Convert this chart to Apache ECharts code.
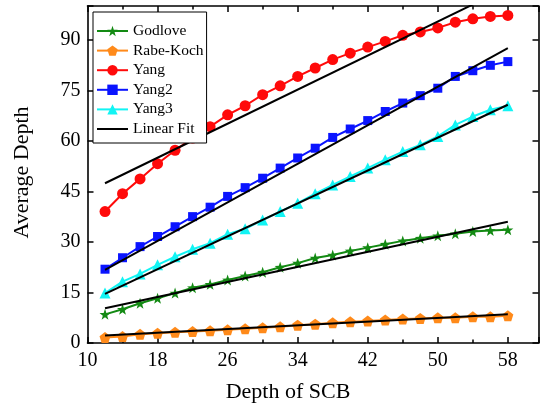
<!DOCTYPE html>
<html>
<head>
<meta charset="utf-8">
<script src="https://cdn.jsdelivr.net/npm/echarts@6/dist/echarts.min.js"></script>
<style>
  html, body { margin: 0; padding: 0; background: #fff; }
  #chart { width: 542px; height: 412px; }
</style>
</head>
<body>
<div id="chart"></div>
<script>
// Depth of SCB (x) sampled every 2 units
const depthSCB = [12, 14, 16, 18, 20, 22, 24, 26, 28, 30, 32, 34, 36, 38, 40, 42, 44, 46, 48, 50, 52, 54, 56, 58];

// Average depth per method
const godlove  = [8.5, 10.0, 11.8, 13.3, 14.8, 16.4, 17.4, 18.7, 19.9, 21.0, 22.5, 23.7, 25.2, 26.1, 27.3, 28.3, 29.3, 30.3, 31.1, 31.8, 32.4, 33.1, 33.4, 33.6];
const rabeKoch = [1.6, 1.9, 2.6, 2.9, 3.2, 3.4, 3.6, 3.9, 4.2, 4.5, 4.8, 5.3, 5.6, 6.0, 6.3, 6.5, 6.8, 7.1, 7.3, 7.5, 7.5, 7.8, 7.8, 8.1];
const yang     = [39.0, 44.3, 48.7, 53.2, 57.2, 60.8, 64.2, 67.7, 70.4, 73.7, 76.3, 79.1, 81.6, 84.1, 86.0, 87.8, 89.5, 91.3, 92.3, 93.5, 95.2, 96.2, 96.9, 97.2];
const yang2    = [21.9, 25.3, 28.6, 31.6, 34.5, 37.5, 40.3, 43.5, 46.1, 48.9, 51.9, 54.9, 57.8, 61.0, 63.5, 66.0, 68.7, 71.2, 73.4, 75.6, 79.1, 80.8, 82.4, 83.5];
const yang3    = [14.8, 18.2, 20.5, 23.2, 25.6, 27.8, 29.6, 32.3, 33.9, 36.5, 39.0, 41.5, 44.3, 46.9, 49.4, 51.9, 54.4, 56.8, 58.8, 61.3, 64.7, 67.2, 69.2, 70.4];

// Linear fit end points (value at first and last depth), in series order:
// Godlove, Rabe-Koch, Yang, Yang2, Yang3
const fitRange = [12, 58];
const fitStart = [10.3, 2.2, 47.4, 21.7, 14.6];
const fitEnd   = [36.0, 8.5, 105.5, 87.5, 70.7];

// Axis tick labels
const xTickLabels = [10, 18, 26, 34, 42, 50, 58];
const yTickLabels = [0, 15, 30, 45, 60, 75, 90];

const seriesNames = ['Godlove', 'Rabe-Koch', 'Yang', 'Yang2', 'Yang3'];
const seriesValues = [godlove, rabeKoch, yang, yang2, yang3];
const seriesColors = ['#138a13', '#ff8a1a', '#ff0a0a', '#0a14ff', '#12f4f4'];

const STAR = 'path://M0,-10L2.35,-3.24L9.51,-3.09L3.8,1.24L5.88,8.09L0,4L-5.88,8.09L-3.8,1.24L-9.51,-3.09L-2.35,-3.24Z';
const PENTAGON = 'path://M0,-10L9.51,-3.09L5.88,8.09L-5.88,8.09L-9.51,-3.09Z';
const seriesSymbols = [STAR, PENTAGON, 'circle', 'rect', 'triangle'];
const seriesSymbolSizes = [11, 11, 11, 9, 11];

const FONT = '"Liberation Serif", "Times New Roman", serif';

const chart = echarts.init(document.getElementById('chart'), null, { renderer: 'canvas' });

const axisLineStyle = { color: '#000', width: 1.6 };

function xAxisCfg(pos, withLabels) {
  return {
    type: 'value', position: pos, min: 10, max: 61.5, interval: 8,
    axisLine: { show: true, onZero: false, lineStyle: axisLineStyle },
    axisTick: { show: true, inside: true, length: 6, lineStyle: { color: '#000', width: 1.5 } },
    minorTick: { show: true, splitNumber: 2, length: 3.5, lineStyle: { color: '#000', width: 1.5 } },
    splitLine: { show: false },
    axisLabel: withLabels ? {
      show: true, margin: 8, fontSize: 20, fontFamily: FONT, color: '#000',
      formatter: v => xTickLabels.indexOf(v) >= 0 ? String(v) : ''
    } : { show: false },
    name: withLabels ? 'Depth of SCB' : '',
    nameLocation: 'middle', nameGap: 38,
    nameTextStyle: { fontSize: 22, fontFamily: FONT, color: '#000', padding: [0, 50, 0, 0] }
  };
}

function yAxisCfg(pos, withLabels) {
  return {
    type: 'value', position: pos, min: 0, max: 100, interval: 15,
    axisLine: { show: true, onZero: false, lineStyle: axisLineStyle },
    axisTick: { show: true, inside: true, length: 6, lineStyle: { color: '#000', width: 1.5 } },
    splitLine: { show: false },
    axisLabel: withLabels ? {
      show: true, margin: 7, fontSize: 20, fontFamily: FONT, color: '#000',
      formatter: v => yTickLabels.indexOf(v) >= 0 ? String(v) : ''
    } : { show: false },
    name: withLabels ? 'Average Depth' : '',
    nameLocation: 'middle', nameGap: 54,
    nameTextStyle: { fontSize: 22, fontFamily: FONT, color: '#000', padding: [0, 0, 0, 4] }
  };
}

const series = [];
seriesNames.forEach((name, i) => {
  series.push({
    name: name,
    type: 'line',
    data: depthSCB.map((x, k) => [x, seriesValues[i][k]]),
    symbol: seriesSymbols[i],
    symbolSize: seriesSymbolSizes[i],
    showSymbol: true,
    lineStyle: { color: seriesColors[i], width: 2 },
    itemStyle: { color: seriesColors[i] },
    emphasis: { disabled: true },
    animation: false,
    z: 2
  });
});
fitStart.forEach((a, i) => {
  series.push({
    name: 'Linear Fit',
    type: 'line',
    data: [[fitRange[0], a], [fitRange[1], fitEnd[i]]],
    symbol: 'none',
    showSymbol: false,
    lineStyle: { color: '#000', width: 2 },
    itemStyle: { color: '#000' },
    emphasis: { disabled: true },
    clip: true,
    animation: false,
    z: 3
  });
});

chart.setOption({
  animation: false,
  backgroundColor: '#fff',
  grid: { left: 87.5, right: 3.5, top: 6, bottom: 69, containLabel: false },
  xAxis: [xAxisCfg('bottom', true), xAxisCfg('top', false)],
  yAxis: [yAxisCfg('left', true), yAxisCfg('right', false)],
  legend: {
    orient: 'vertical', left: 93, top: 12,
    backgroundColor: '#fff', borderColor: '#000', borderWidth: 1,
    padding: [11, 3, 6, 3],
    itemWidth: 31, itemHeight: 13, itemGap: 3.6,
    textStyle: { fontSize: 15.5, fontFamily: FONT, color: '#000' },
    data: ['Godlove', 'Rabe-Koch', 'Yang', 'Yang2', 'Yang3',
      { name: 'Linear Fit', itemStyle: { opacity: 0 } }]
  },
  series: series
});
</script>
</body>
</html>
